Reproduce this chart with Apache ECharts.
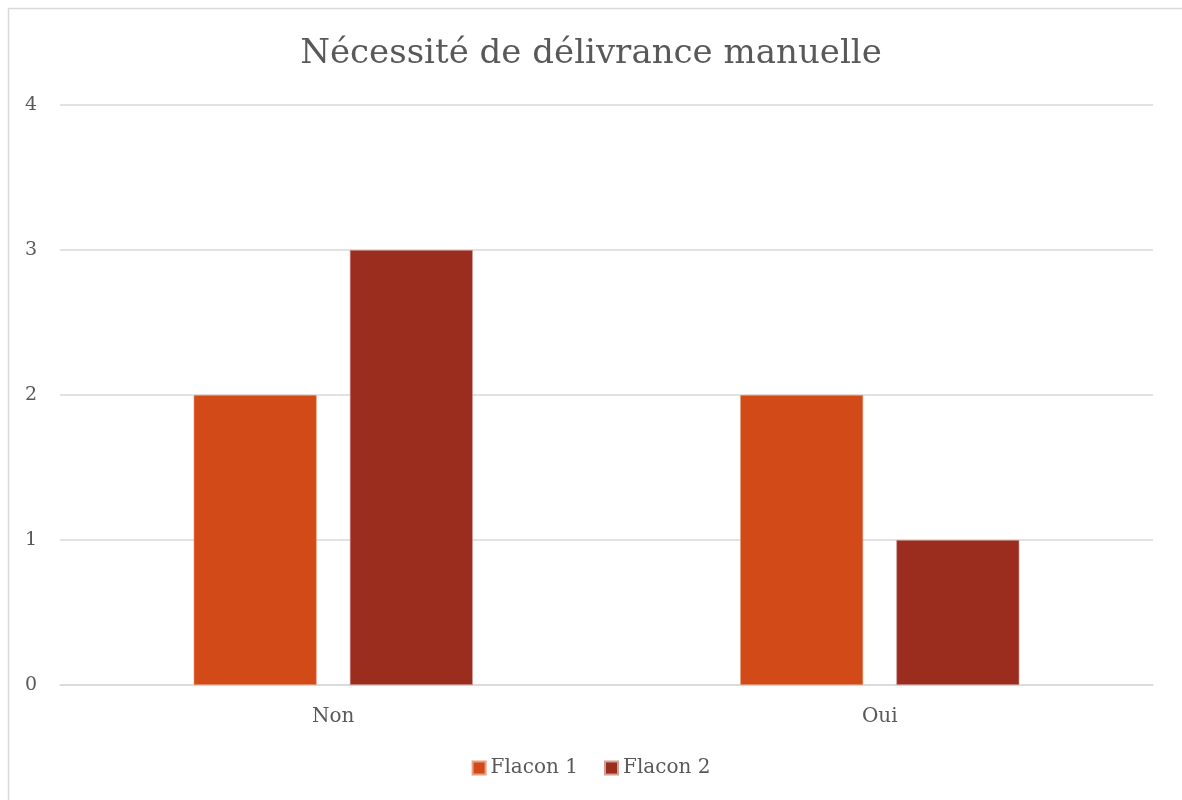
<!DOCTYPE html>
<html>
<head>
<meta charset="utf-8">
<script src="https://cdn.jsdelivr.net/npm/echarts@6/dist/echarts.min.js"></script>
<style>
  html, body { margin: 0; padding: 0; background: #fff; }
  #box { width: 1182px; height: 800px; }
</style>
</head>
<body>
<div id="box"></div>
<script>
// data
const categories = ['Non', 'Oui'];
const flacon1 = [2, 2];
const flacon2 = [3, 1];
const yTicks = [0, 1, 2, 3, 4];

const font = '"DejaVu Serif", serif';
const chart = echarts.init(document.getElementById('box'));

chart.setOption({
    animation: false,
    graphic: [{
        type: 'rect',
        shape: { x: 8.5, y: 8.5, width: 1190, height: 800 },
        style: { fill: 'none', stroke: '#d9d9d9', lineWidth: 1.5 },
        silent: true
    }],
    title: {
        text: 'Nécessité de délivrance manuelle',
        left: 'center',
        top: 32,
        textStyle: { fontFamily: font, fontWeight: 'normal', fontSize: 34, color: '#595959' }
    },
    legend: {
        bottom: 17,
        left: 'center',
        itemWidth: 13,
        itemHeight: 13,
        itemGap: 26,
        icon: 'rect',
        textStyle: { fontFamily: font, fontSize: 20, color: '#595959' }
    },
    grid: { left: 60, right: 29, top: 105, bottom: 115 },
    xAxis: {
        type: 'category',
        data: categories,
        axisLine: { lineStyle: { color: '#d9d9d9', width: 1.5 } },
        axisTick: { show: false },
        axisLabel: { fontFamily: font, fontSize: 20, color: '#595959', margin: 22 }
    },
    yAxis: {
        type: 'value',
        min: yTicks[0],
        max: yTicks[yTicks.length - 1],
        interval: 1,
        axisLine: { show: false },
        axisTick: { show: false },
        splitLine: { lineStyle: { color: '#d9d9d9', width: 1.5 } },
        axisLabel: { fontFamily: font, fontSize: 19, color: '#595959', margin: 23 }
    },
    series: [
        {
            name: 'Flacon 1',
            type: 'bar',
            data: flacon1,
            barWidth: '22.5%',
            barGap: '27%',
            itemStyle: { color: '#d24a17', borderColor: '#e8a080', borderWidth: 0.6 }
        },
        {
            name: 'Flacon 2',
            type: 'bar',
            data: flacon2,
            barWidth: '22.5%',
            itemStyle: { color: '#9b2d1f', borderColor: '#d0a09a', borderWidth: 0.6 }
        }
    ]
});
</script>
</body>
</html>
